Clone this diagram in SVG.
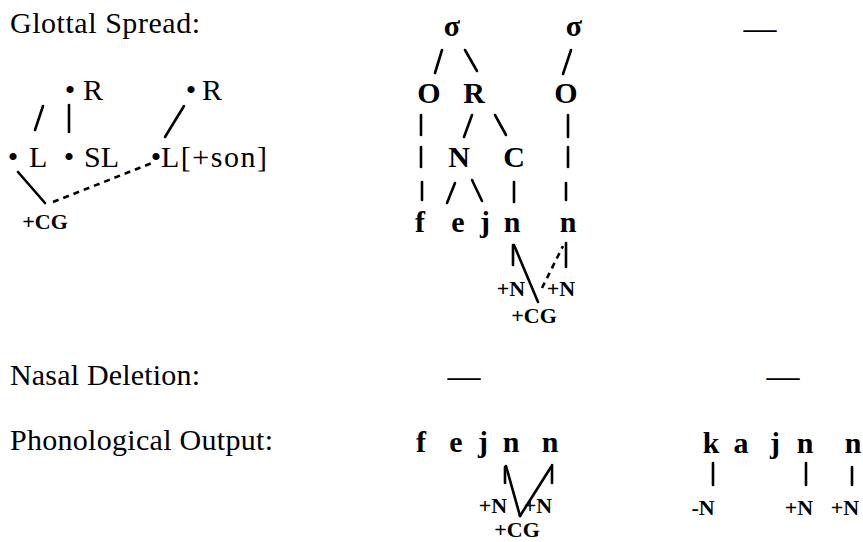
<svg xmlns="http://www.w3.org/2000/svg" width="863" height="542" viewBox="0 0 863 542">
<style>
text{font-family:"Liberation Serif","Times New Roman",serif;fill:#000}
.lab{font-size:30px}
.sym{font-size:30px}
.tr{font-size:30px;font-weight:bold;text-anchor:middle}
.ft{font-size:22px;font-weight:bold;text-anchor:middle}
.bul{font-size:30px;text-anchor:middle}
.dash{font-size:33px;text-anchor:middle}
.ln{stroke:#000;stroke-width:2.6;fill:none;stroke-linecap:round}
.dl{stroke:#000;stroke-width:2.6;fill:none;stroke-dasharray:6 5}
</style>
<rect width="863" height="542" fill="#fff"/>
<g id="labels">
<text class="lab" x="10" y="33" textLength="190">Glottal Spread:</text>
<text class="lab" x="10" y="385" textLength="190">Nasal Deletion:</text>
<text class="lab" x="10" y="450" textLength="263">Phonological Output:</text>
</g>
<g id="dashes">
<text class="dash" x="760" y="39">—</text>
<text class="dash" x="464" y="387">—</text>
<text class="dash" x="783" y="387">—</text>
</g>
<g id="left-R1"><text class="bul" x="70" y="100">•</text><text class="sym" x="83" y="100">R</text></g>
<g id="left-R2"><text class="bul" x="191" y="100">•</text><text class="sym" x="202" y="100">R</text></g>
<g id="left-L"><text class="bul" x="13" y="167">•</text><text class="sym" x="29" y="167">L</text></g>
<g id="left-SL"><text class="bul" x="69" y="167">•</text><text class="sym" x="84" y="167">SL</text></g>
<g id="left-Lson"><text class="bul" x="156" y="167">•</text><text class="sym" x="161" y="167" textLength="106">L[+son]</text></g>
<g id="left-CG"><text class="ft" x="45" y="229">+CG</text></g>
<g id="tree">
<text class="tr" x="452" y="36">σ</text>
<text class="tr" x="574" y="36">σ</text>
<text class="tr" x="429" y="103">O</text>
<text class="tr" x="474" y="103">R</text>
<text class="tr" x="566" y="103">O</text>
<text class="tr" x="459" y="167">N</text>
<text class="tr" x="514" y="167">C</text>
<text class="tr" x="420" y="232">f</text>
<text class="tr" x="458" y="232">e</text>
<text class="tr" x="485" y="232">j</text>
<text class="tr" x="512" y="232">n</text>
<text class="tr" x="568" y="232">n</text>
<text class="ft" x="511" y="296">+N</text>
<text class="ft" x="561" y="296">+N</text>
<text class="ft" x="534" y="323">+CG</text>
</g>
<g id="output1">
<text class="tr" x="421" y="452">f</text>
<text class="tr" x="456" y="452">e</text>
<text class="tr" x="483" y="452">j</text>
<text class="tr" x="511" y="452">n</text>
<text class="tr" x="550" y="452">n</text>
<text class="ft" x="493" y="513">+N</text>
<text class="ft" x="538" y="513">+N</text>
<text class="ft" x="517" y="537">+CG</text>
</g>
<g id="output2">
<text class="tr" x="711" y="453">k</text>
<text class="tr" x="741" y="453">a</text>
<text class="tr" x="775" y="453">j</text>
<text class="tr" x="805" y="453">n</text>
<text class="tr" x="853" y="453">n</text>
<text class="ft" x="703" y="515">-N</text>
<text class="ft" x="799" y="515">+N</text>
<text class="ft" x="845" y="515">+N</text>
</g>
<g id="connectors">
<line class="ln" x1="43" y1="106" x2="35" y2="130"/>
<line class="ln" x1="69" y1="105" x2="69" y2="132"/>
<line class="ln" x1="184" y1="106" x2="165" y2="137"/>
<line class="ln" x1="18" y1="172" x2="45" y2="203"/>
<line class="dl" x1="53" y1="202" x2="152" y2="163"/>
<line class="ln" x1="442" y1="50" x2="435" y2="73"/>
<line class="ln" x1="465" y1="50" x2="477" y2="71"/>
<line class="ln" x1="571" y1="50" x2="563" y2="74"/>
<line class="ln" x1="421" y1="115" x2="421" y2="135"/>
<line class="ln" x1="472" y1="115" x2="464" y2="137"/>
<line class="ln" x1="495" y1="115" x2="506" y2="135"/>
<line class="ln" x1="568" y1="115" x2="568" y2="137"/>
<line class="ln" x1="421" y1="147" x2="421" y2="167"/>
<line class="ln" x1="568" y1="147" x2="568" y2="167"/>
<line class="ln" x1="422" y1="182" x2="422" y2="200"/>
<line class="ln" x1="455" y1="183" x2="447" y2="203"/>
<line class="ln" x1="472" y1="180" x2="482" y2="201"/>
<line class="ln" x1="514" y1="182" x2="514" y2="202"/>
<line class="ln" x1="566" y1="183" x2="566" y2="200"/>
<line class="ln" x1="513" y1="245" x2="513" y2="265"/>
<line class="ln" x1="514" y1="245" x2="538" y2="302"/>
<line class="dl" x1="542" y1="288" x2="563" y2="246"/>
<line class="ln" x1="566" y1="243" x2="566" y2="267"/>
<line class="ln" x1="505" y1="467" x2="505" y2="483"/>
<line class="ln" x1="506" y1="466" x2="520" y2="516"/>
<line class="ln" x1="520" y1="516" x2="551" y2="467"/>
<line class="ln" x1="552" y1="465" x2="552" y2="483"/>
<line class="ln" x1="713" y1="463" x2="713" y2="485"/>
<line class="ln" x1="806" y1="463" x2="806" y2="485"/>
<line class="ln" x1="852" y1="467" x2="852" y2="485"/>
</g>
</svg>
